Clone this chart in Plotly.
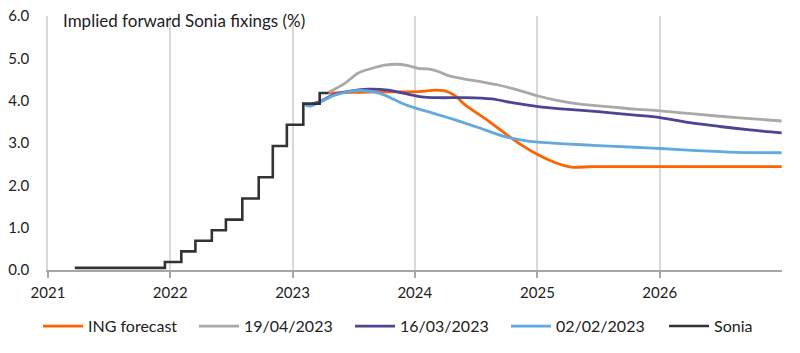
import plotly.graph_objects as go

# ---- data ----
sonia_dates = ["2021-03-22", "2021-12-16", "2022-02-03", "2022-03-17", "2022-05-05",
               "2022-06-16", "2022-08-04", "2022-09-22", "2022-11-03", "2022-12-15",
               "2023-02-02", "2023-03-23", "2023-04-19"]
sonia_vals = [0.05, 0.19, 0.44, 0.69, 0.94, 1.19, 1.69, 2.19, 2.93, 3.43, 3.93, 4.18, 4.18]

ing_dates = ["2023-04-19", "2023-06-06", "2023-09-13", "2023-12-12", "2024-01-21",
             "2024-03-01", "2024-03-31", "2024-04-30", "2024-05-30", "2024-07-28",
             "2024-09-26", "2024-11-15", "2025-01-03", "2025-02-22", "2025-04-13",
             "2025-06-12", "2025-10-19", "2026-12-31"]
ing_vals = [4.18, 4.19, 4.21, 4.21, 4.22, 4.25, 4.23, 4.12, 3.90, 3.58,
            3.23, 2.95, 2.72, 2.54, 2.43, 2.44, 2.44, 2.44]

apr_dates = ["2023-04-19", "2023-06-06", "2023-07-15", "2023-08-24", "2023-10-03",
             "2023-11-12", "2023-12-12", "2024-01-11", "2024-02-09", "2024-03-11",
             "2024-04-10", "2024-05-10", "2024-09-06", "2024-11-05", "2025-01-03",
             "2025-03-04", "2025-05-13", "2025-07-31", "2025-10-19", "2026-01-02",
             "2026-04-21", "2026-08-18", "2026-12-31"]
apr_vals = [4.20, 4.41, 4.65, 4.76, 4.84, 4.86, 4.83, 4.76, 4.75, 4.69,
            4.59, 4.54, 4.37, 4.25, 4.11, 4.00, 3.91, 3.86, 3.80, 3.76,
            3.68, 3.60, 3.52]

mar_dates = ["2023-03-01", "2023-03-27", "2023-05-07", "2023-06-26", "2023-08-14",
             "2023-10-13", "2023-12-02", "2024-01-21", "2024-03-11", "2024-05-30",
             "2024-08-17", "2024-10-26", "2025-01-03", "2025-03-24", "2025-07-01",
             "2025-10-19", "2026-01-02", "2026-04-01", "2026-06-29", "2026-09-27",
             "2026-12-31"]
mar_vals = [3.92, 3.99, 4.15, 4.23, 4.27, 4.25, 4.17, 4.09, 4.07, 4.07,
            4.04, 3.94, 3.86, 3.80, 3.74, 3.66, 3.60, 3.48, 3.39, 3.31, 3.24]

feb_dates = ["2023-02-06", "2023-02-21", "2023-03-27", "2023-05-07", "2023-06-16",
             "2023-07-25", "2023-09-03", "2023-10-03", "2023-11-02", "2023-12-02",
             "2024-01-01", "2024-02-09", "2024-03-31", "2024-05-30", "2024-07-28",
             "2024-09-26", "2024-11-15", "2025-01-03", "2025-03-24", "2025-07-01",
             "2025-10-19", "2026-01-02", "2026-04-21", "2026-08-18", "2026-12-31"]
feb_vals = [3.91, 3.87, 3.98, 4.13, 4.21, 4.24, 4.20, 4.13, 4.02, 3.91,
            3.83, 3.74, 3.62, 3.47, 3.31, 3.15, 3.07, 3.02, 2.98, 2.94,
            2.90, 2.87, 2.82, 2.78, 2.77]

year_ticks = ["2021-01-01", "2022-01-01", "2023-01-01", "2024-01-01",
              "2025-01-01", "2026-01-01"]
year_labels = ["2021", "2022", "2023", "2024", "2025", "2026"]
y_ticks = [0, 1, 2, 3, 4, 5, 6]

FONT = "Lato"
TXT = "#222222"

fig = go.Figure()
spline = dict(shape="spline", smoothing=0.8)
fig.add_trace(go.Scatter(x=ing_dates, y=ing_vals, name="ING forecast", mode="lines",
                         line=dict(color="#FF6200", width=2.8, **spline)))
fig.add_trace(go.Scatter(x=apr_dates, y=apr_vals, name="19/04/2023", mode="lines",
                         line=dict(color="#A9A9A9", width=2.8, **spline)))
fig.add_trace(go.Scatter(x=mar_dates, y=mar_vals, name="16/03/2023", mode="lines",
                         line=dict(color="#4B4596", width=2.8, **spline)))
fig.add_trace(go.Scatter(x=feb_dates, y=feb_vals, name="02/02/2023", mode="lines",
                         line=dict(color="#62A9E0", width=2.8, **spline)))
fig.add_trace(go.Scatter(x=sonia_dates, y=sonia_vals, name="Sonia", mode="lines",
                         legend="legend2",
                         line=dict(color="#333333", width=2.6, shape="hv")))

leg_common = dict(orientation="h", xref="container", yref="container",
                  xanchor="left", y=0.076, yanchor="middle",
                  font=dict(family=FONT, size=16, color=TXT),
                  itemwidth=40, tracegroupgap=0, traceorder="normal",
                  bgcolor="rgba(0,0,0,0)")

fig.update_layout(
    width=800, height=353,
    margin=dict(l=48, r=18, t=16, b=83, autoexpand=False),
    paper_bgcolor="white", plot_bgcolor="white",
    font=dict(family=FONT, size=15, color=TXT),
    showlegend=True,
    legend=dict(x=0.0475, entrywidth=101, entrywidthmode="pixels", **leg_common),
    legend2=dict(x=0.83, **leg_common),
    annotations=[dict(text="Implied forward Sonia fixings (%)", xref="paper", yref="paper",
                      x=0.0177, y=0.984, xanchor="left", yanchor="middle",
                      showarrow=False, font=dict(family=FONT, size=17, color=TXT))],
)
fig.update_xaxes(
    type="date", range=["2021-01-01", "2027-01-01"],
    tickvals=year_ticks, ticktext=year_labels,
    showgrid=True, gridcolor="#D9D9D9", gridwidth=1.5,
    showline=True, linecolor="#A6A6A6", linewidth=1.5,
    ticks="outside", ticklen=6, tickcolor="#A6A6A6", tickwidth=1.5,
    ticklabelstandoff=2, automargin=False,
    zeroline=False,
)
fig.update_yaxes(
    range=[0, 6], tickvals=y_ticks, tickformat=".1f",
    showgrid=False, zeroline=False,
    showline=True, linecolor="#D9D9D9", linewidth=1.5,
    ticks="", ticklabelstandoff=14, automargin=False,
)

fig.write_html("out.html")
